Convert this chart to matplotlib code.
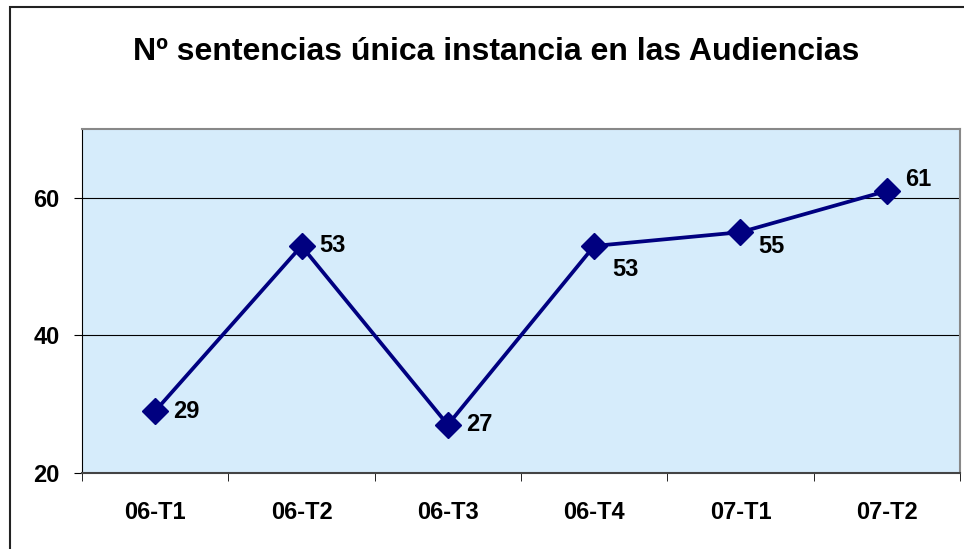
import matplotlib.pyplot as plt
from matplotlib.patches import Rectangle

plt.rcParams['font.family'] = ['Liberation Sans', 'DejaVu Sans']

# data
periods = ["06-T1", "06-T2", "06-T3", "06-T4", "07-T1", "07-T2"]
sentencias = [29, 53, 27, 53, 55, 61]
# label placement per point (dx, dy in points)
label_offsets = [(13, 0), (13, 0), (13, 0), (13, -17), (13, -10), (13, 8)]

fig = plt.figure(figsize=(9.64, 5.49), dpi=100)

# outer frame of the chart
fig.patches.append(Rectangle((10 / 964, -0.05), 1.2, (549 - 7) / 549 + 0.05,
                             transform=fig.transFigure, fill=False,
                             edgecolor="#222222", linewidth=1.5))

ax = fig.add_axes([82 / 964, 76 / 549, 878 / 964, 344 / 549])
ax.set_facecolor("#D6ECFB")

x = list(range(len(periods)))
ax.plot(x, sentencias, color="#000080", linewidth=2.7, marker="D",
        markersize=13, zorder=3)

for xi, v, (dx, dy) in zip(x, sentencias, label_offsets):
    ax.annotate(str(v), (xi, v), xytext=(dx, dy), textcoords="offset points",
                ha="left", va="center", fontsize=17, fontweight="bold")

ax.set_xlim(-0.5, len(periods) - 0.5)
ax.set_ylim(20, 70)
ax.set_yticks([20, 40, 60])
ax.set_yticklabels(["20", "40", "60"], fontsize=17, fontweight="bold")
ax.yaxis.grid(True, color="black", linewidth=0.8)
ax.set_axisbelow(True)

ax.set_xticks(x)
ax.set_xticklabels(periods, fontsize=17, fontweight="bold")
ax.tick_params(axis="x", length=0, pad=20)
ax.set_xticks([i - 0.5 for i in range(len(periods) + 1)], minor=True)
ax.tick_params(axis="x", which="minor", length=6, color="black", direction="out")
ax.tick_params(axis="y", length=6, pad=10, direction="out", color="black")

ax.spines["left"].set_color("black")
ax.spines["bottom"].set_color("#444444")
ax.spines["bottom"].set_linewidth(1.5)
ax.spines["top"].set_color("#888888")
ax.spines["right"].set_color("#888888")
ax.spines["top"].set_linewidth(1.5)
ax.spines["right"].set_linewidth(1.5)

fig.text(496 / 964, 1 - 52 / 549, "Nº sentencias única instancia en las Audiencias",
         ha="center", va="center", fontsize=23, fontweight="bold")

fig.savefig("out.png", dpi=100)
